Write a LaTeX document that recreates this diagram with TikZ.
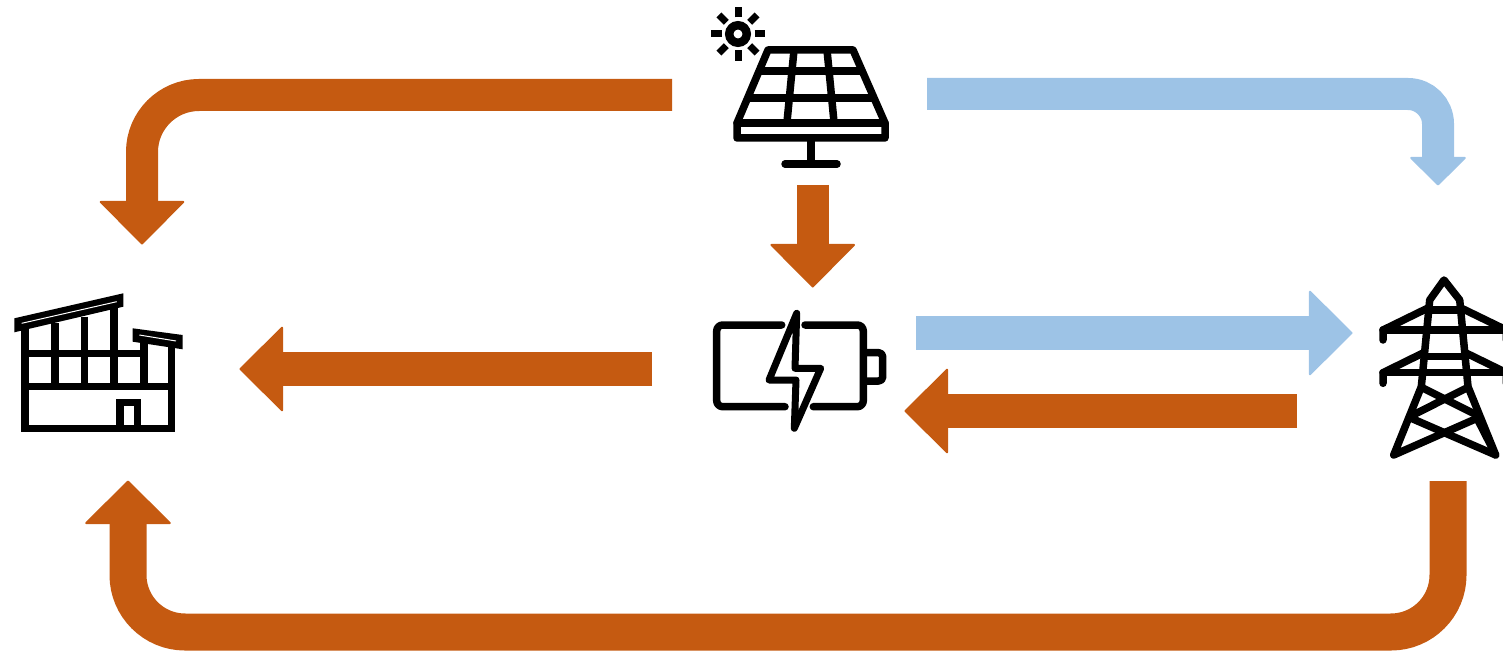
\documentclass[tikz,border=0pt]{standalone}
\usetikzlibrary{arrows.meta}
\definecolor{flowo}{HTML}{C55A11}
\definecolor{flowb}{HTML}{9DC3E6}
\tikzset{
  icon/.style={line width=7.5pt,draw=black,line cap=round,line join=round},
  iconb/.style={line width=7.3pt,draw=black,line cap=butt,line join=miter},
  bigtip/.style={-{Triangle[length=44pt,width=87pt,line width=2pt,round]}},
  fat/.style={line width=#1,line cap=butt},
  orangeflow/.style={draw=flowo,color=flowo,rounded corners=57pt},
  blueflow/.style={draw=flowb,color=flowb,rounded corners=30pt}
}
\begin{document}
\begin{tikzpicture}[x=1pt,y=-1pt]
\useasboundingbox (0,0) rectangle (1503,652);
% anchor coordinates of the flow arrows
\coordinate (sfS) at (672,95);   \coordinate (sfE) at (142,244.5);
\coordinate (sgS) at (927,94);   \coordinate (sgE) at (1438,185.5);
\coordinate (sbS) at (812.7,185);  \coordinate (sbE) at (812.7,287.5);
\coordinate (bfS) at (652,369);  \coordinate (bfE) at (239.5,369);
\coordinate (bgS) at (916,333);  \coordinate (bgE) at (1352.5,333);
\coordinate (gbS) at (1297,411); \coordinate (gbE) at (904.5,411);
\coordinate (gfS) at (1448,481); \coordinate (gfC) at (128,632); \coordinate (gfE) at (128,480.5);
% flows
\draw[orangeflow,fat=32pt,bigtip] (sfS) -| (sfE);
\draw[blueflow,fat=32pt,-{Triangle[length=29pt,width=58pt,line width=2pt,round]}] (sgS) -| (sgE);
\draw[orangeflow,fat=32pt,bigtip] (sbS) -- (sbE);
\draw[orangeflow,fat=34pt,bigtip] (bfS) -- (bfE);
\draw[blueflow,fat=34pt,bigtip] (bgS) -- (bgE);
\draw[orangeflow,fat=34pt,bigtip] (gbS) -- (gbE);
\draw[orangeflow,fat=37pt,-{Triangle[length=44pt,width=88pt,line width=2pt,round]}] (gfS) |- (gfC) -- (gfE);
% solar panel
\draw[icon] (768,50) -- (853,50) -- (885,123) -- (885,138) -- (737,138) -- (737,123) -- cycle;
\draw[icon] (737,123) -- (885,123);
\draw[icon,line cap=butt] (759,71) -- (862,71);
\draw[icon,line cap=butt] (748,98) -- (874,98);
\draw[icon,line cap=butt] (794,50) -- (787,122);
\draw[icon,line cap=butt] (827,50) -- (834,122);
\draw[icon] (811,138) -- (811,164);
\draw[icon] (785,164) -- (837,164);
\draw[line width=8.5pt] (738,34) circle (8.75pt);
\foreach \a in {0,45,...,315}{
  \draw[line width=7pt,line cap=butt] (738,34) ++(\a:16.5pt) -- ++(\a:10.5pt);
}
% factory
\fill (14.3,318.3) -- (123.3,293.3) -- (123.3,306.7) -- (14.3,332.3) -- cycle;
\draw[white,line width=1pt] (21.7,323.3) -- (116.7,301.7);
\fill (132.7,328.3) -- (182.7,335) -- (182.7,349.3) -- (132.7,341.7) -- cycle;
\draw[white,line width=1pt] (139.3,335) -- (176,341);
\draw[iconb] (25,325) -- (25,428.3) -- (171.7,428.3) -- (171.7,345);
\draw[iconb] (25,386.7) -- (171.7,386.7);
\draw[iconb] (25,353.3) -- (144,353.3);
\draw[iconb] (55,323) -- (55,386.7);
\draw[iconb] (84.3,316.7) -- (84.3,386.7);
\draw[iconb] (114,306.7) -- (114,386.7);
\draw[iconb] (144,343) -- (144,386.7);
\draw[iconb] (120,428.3) -- (120,402.7) -- (137.7,402.7) -- (137.7,428.3);
% battery
\draw[icon,rounded corners=6pt] (781.7,325) -- (716.7,325) -- (716.7,406.7) -- (785,406.7);
\draw[icon,rounded corners=6pt] (805,325) -- (863.3,325) -- (863.3,406.7) -- (813.3,406.7);
\draw[icon,rounded corners=4pt] (866,352.7) -- (882.7,352.7) -- (882.7,381) -- (866,381);
\draw[icon,line width=7pt] (796.7,313.3) -- (769,380) -- (796,380) -- (794.3,428.3) -- (820.7,368.3) -- (795,368.3) -- cycle;
% pylon
\draw[icon] (1429.7,300) -- (1444,280) -- (1459.7,300) -- (1468,386.7) -- (1495.7,455) -- (1477,418.3) -- (1393.7,455) -- (1421.3,386.7) -- cycle;
\draw[icon,line cap=butt] (1429,310) -- (1461,310);
\draw[icon,line cap=butt] (1425,356.7) -- (1465,356.7);
\draw[icon] (1383,340) -- (1383,330) -- (1428,308);
\draw[icon] (1506.3,340) -- (1506.3,330) -- (1461,308);
\draw[icon] (1383,383.3) -- (1383,372.7) -- (1423,353);
\draw[icon] (1506.3,383.3) -- (1506.3,372.7) -- (1466,353);
\draw[icon] (1383,330) -- (1506.3,330);
\draw[icon] (1383,372.7) -- (1506.3,372.7);
\draw[icon] (1421.3,387.3) -- (1474.7,414);
\draw[icon] (1468,387.3) -- (1413,415);
\draw[icon] (1411.3,418.3) -- (1495.7,455);
\end{tikzpicture}
\end{document}
